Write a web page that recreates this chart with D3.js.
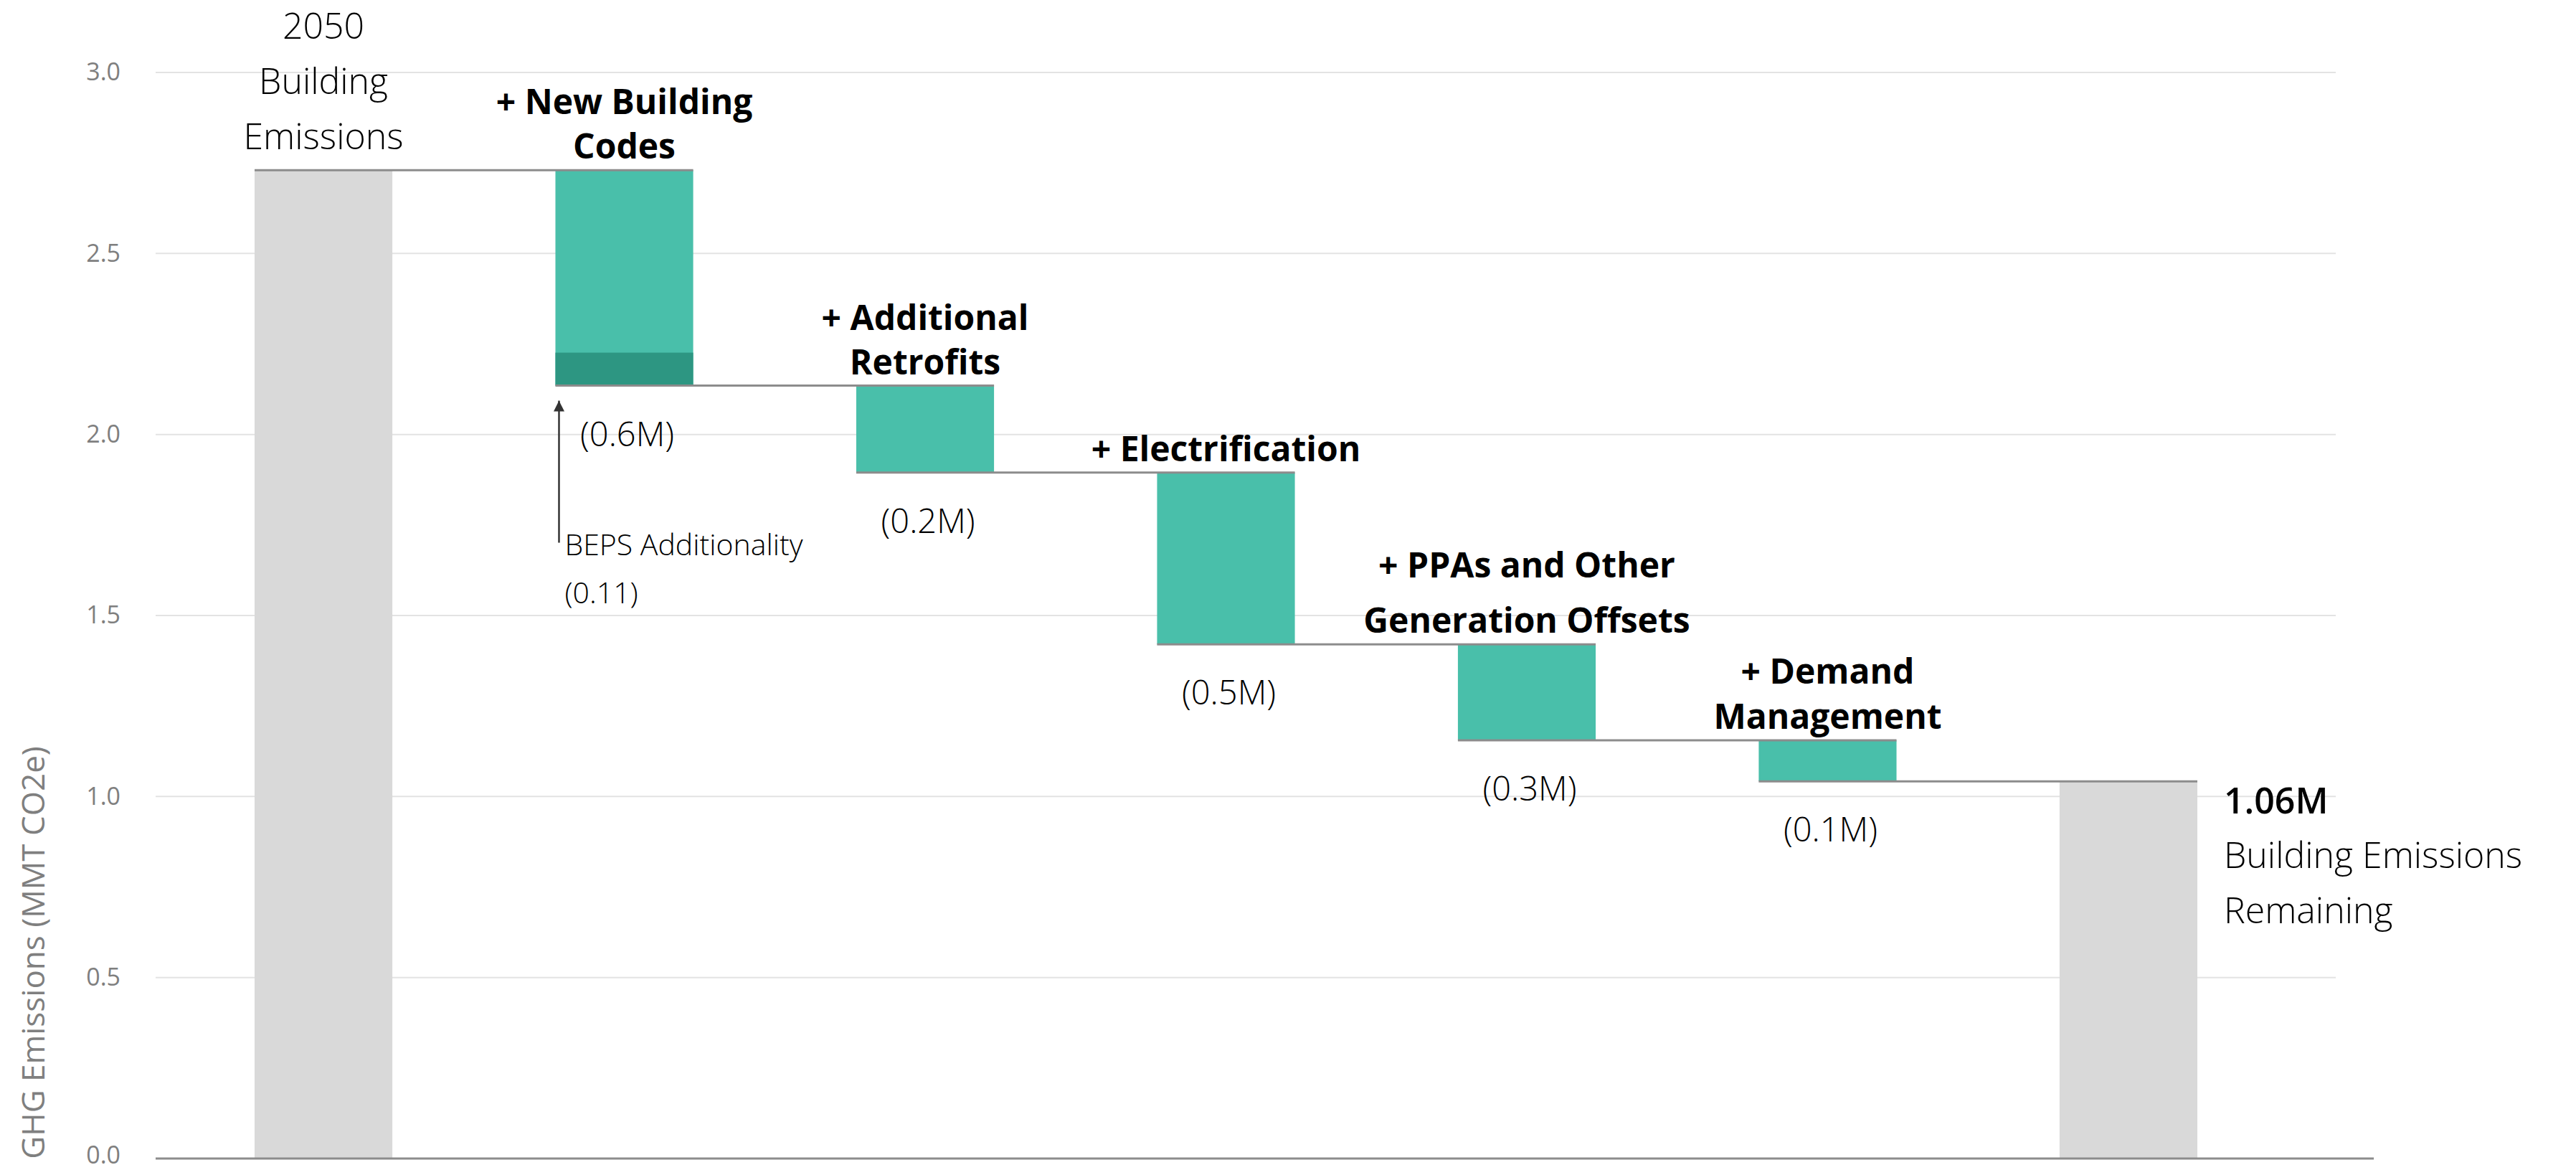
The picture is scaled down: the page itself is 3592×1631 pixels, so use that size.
<!DOCTYPE html>
<html>
<head>
<meta charset="utf-8">
<script src="https://cdn.jsdelivr.net/npm/d3@7"></script>
<style>
  html, body { margin: 0; padding: 0; background: #fff; }
  svg { display: block; }
  text { font-family: "Open Sans", "Noto Sans", sans-serif; }
</style>
</head>
<body>
<svg id="chart" width="3592" height="1631"></svg>
<script>
// ---- Data ----
const categories = ["2050 Building Emissions", "New Building Codes", "Additional Retrofits",
  "Electrification", "PPAs and Other Generation Offsets", "Demand Management",
  "Building Emissions Remaining"];
const startValue = 2.73;
const reductions = [0.595, 0.24, 0.475, 0.265, 0.113];
const bepsAdditionality = 0.091;
const valueLabels = ["(0.6M)", "(0.2M)", "(0.5M)", "(0.3M)", "(0.1M)"];
const stepLabels = [["+ New Building", "Codes"], ["+ Additional", "Retrofits"], ["+ Electrification"],
  ["+ PPAs and Other", "Generation Offsets"], ["+ Demand", "Management"]];
const startLabel = ["2050", "Building", "Emissions"];
const endLabelValue = "1.06M";
const endLabel = ["Building Emissions", "Remaining"];
const bepsLabel = ["BEPS Additionality", "(0.11)"];
const yTicks = [0, 0.5, 1.0, 1.5, 2.0, 2.5, 3.0];
const yTitle = "GHG Emissions (MMT CO2e)";

// ---- Layout ----
const W = 3592, H = 1631;
const gridX0 = 217, gridX1 = 3257, baseX1 = 3310;
const stepLineGap = [62, 62, 62, 77, 63];
const colors = { total: "#d9d9d9", step: "#49bfaa", beps: "#2d9682", connector: "#8c8c8c",
  grid: "#e3e3e3", tick: "#7f7f7f" };

const svg = d3.select("#chart");
svg.append("rect").attr("width", W).attr("height", H).attr("fill", "#fff");

const y = d3.scaleLinear().domain([0, 3]).range([1615, 101]);
const x = d3.scaleBand().domain(categories).range([355, 3064]).paddingInner(0.542).paddingOuter(0);
const bw = x.bandwidth();

// Build waterfall records
const bars = [];
let level = startValue;
bars.push({ cat: categories[0], y0: 0, y1: startValue, type: "total" });
reductions.forEach((r, i) => {
  bars.push({ cat: categories[i + 1], y0: level - r, y1: level, type: "step", idx: i });
  level -= r;
});
bars.push({ cat: categories[6], y0: 0, y1: level, type: "total" });

// Gridlines
svg.append("g").selectAll("line").data(yTicks.filter(d => d > 0)).join("line")
  .attr("x1", gridX0).attr("x2", gridX1)
  .attr("y1", d => y(d)).attr("y2", d => y(d))
  .attr("stroke", colors.grid).attr("stroke-width", 2);

// Y axis labels
const yAxis = d3.axisLeft(y).tickValues(yTicks).tickFormat(d3.format(".1f")).tickSize(0).tickPadding(49);
const ya = svg.append("g").attr("transform", `translate(${gridX0},0)`).call(yAxis);
ya.select(".domain").remove();
ya.selectAll("text").attr("font-size", 34).attr("fill", colors.tick)
  .attr("font-family", "'Open Sans', sans-serif")
  .attr("dy", d => d === 0 ? "0.18em" : "0.32em");

// Y title
svg.append("text")
  .attr("transform", `translate(62,1328) rotate(-90)`)
  .attr("text-anchor", "middle").attr("font-size", 44).attr("fill", colors.tick)
  .text(yTitle);

// Bars
svg.append("g").selectAll("rect").data(bars).join("rect")
  .attr("x", d => x(d.cat)).attr("width", bw)
  .attr("y", d => y(d.y1)).attr("height", d => y(d.y0) - y(d.y1))
  .attr("fill", d => d.type === "total" ? colors.total : colors.step);

// BEPS segment (bottom portion of new building codes)
const nb = bars[1];
svg.append("rect")
  .attr("x", x(nb.cat)).attr("width", bw)
  .attr("y", y(nb.y0 + bepsAdditionality)).attr("height", y(nb.y0) - y(nb.y0 + bepsAdditionality))
  .attr("fill", colors.beps);

// Connectors
const connectors = [];
for (let i = 0; i < bars.length - 1; i++) {
  const lvl = bars[i].type === "total" ? bars[i].y1 : bars[i].y0;
  connectors.push({ x1: x(bars[i].cat), x2: x(bars[i + 1].cat) + bw, v: lvl });
}
svg.append("g").selectAll("line").data(connectors).join("line")
  .attr("x1", d => d.x1).attr("x2", d => d.x2)
  .attr("y1", d => y(d.v)).attr("y2", d => y(d.v))
  .attr("stroke", colors.connector).attr("stroke-width", 3);

// Baseline
svg.append("line").attr("x1", gridX0).attr("x2", baseX1)
  .attr("y1", y(0)).attr("y2", y(0))
  .attr("stroke", colors.connector).attr("stroke-width", 3);

// Start label
const sx = x(categories[0]) + bw / 2;
svg.append("g").selectAll("text").data(startLabel).join("text")
  .attr("x", sx).attr("y", (d, i) => y(startValue) - 29 - (startLabel.length - 1 - i) * 77)
  .attr("text-anchor", "middle").attr("font-size", 50).attr("font-weight", 300).attr("fill", "#000")
  .text(d => d);

// Step labels (bold) and value labels
bars.filter(b => b.type === "step").forEach(b => {
  const cx = x(b.cat) + bw / 2;
  const lines = stepLabels[b.idx];
  const gap = stepLineGap[b.idx];
  svg.append("g").selectAll("text").data(lines).join("text")
    .attr("x", cx).attr("y", (d, i) => y(b.y1) - 16 - (lines.length - 1 - i) * gap)
    .attr("text-anchor", "middle").attr("font-size", 48).attr("font-weight", 700).attr("fill", "#000")
    .text(d => d);
  svg.append("text")
    .attr("x", cx + 4).attr("y", y(b.y0) + 84)
    .attr("text-anchor", "middle").attr("font-size", 47).attr("font-weight", 300).attr("fill", "#000")
    .text(valueLabels[b.idx]);
});

// BEPS annotation arrow
const ax = x(nb.cat) + 5;
svg.append("defs").append("marker")
  .attr("id", "arrow").attr("viewBox", "0 0 10 10").attr("refX", 10).attr("refY", 5)
  .attr("markerWidth", 6).attr("markerHeight", 6).attr("orient", "auto")
  .append("path").attr("d", "M0,0 L10,5 L0,10 Z").attr("fill", "#333");
svg.append("line")
  .attr("x1", ax).attr("x2", ax)
  .attr("y1", y(nb.y0) + 219).attr("y2", y(nb.y0) + 21)
  .attr("stroke", "#333").attr("stroke-width", 2.5).attr("marker-end", "url(#arrow)");
svg.append("g").selectAll("text").data(bepsLabel).join("text")
  .attr("x", ax + 8).attr("y", (d, i) => y(nb.y0) + 236 + i * 67)
  .attr("font-size", 41).attr("font-weight", 300).attr("fill", "#000")
  .text(d => d);

// End label
const last = bars[bars.length - 1];
const ex = x(last.cat) + bw + 37;
svg.append("text").attr("x", ex).attr("y", y(last.y1) + 45)
  .attr("font-size", 50).attr("font-weight", 600).attr("fill", "#000").text(endLabelValue);
svg.append("g").selectAll("text").data(endLabel).join("text")
  .attr("x", ex).attr("y", (d, i) => y(last.y1) + 121 + i * 77)
  .attr("font-size", 50).attr("font-weight", 300).attr("fill", "#000")
  .text(d => d);
</script>
</body>
</html>
